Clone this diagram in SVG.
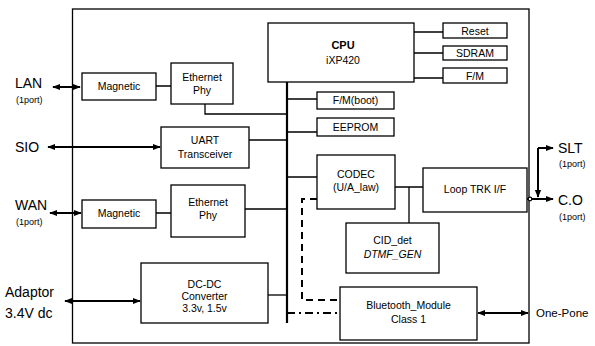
<svg xmlns="http://www.w3.org/2000/svg" width="595" height="346" viewBox="0 0 595 346">
<defs>
<style>
.box{fill:#fff;stroke:#000;stroke-width:1.3}
.ln{fill:none;stroke:#000;stroke-width:1.3}
.bus{fill:none;stroke:#000;stroke-width:2.2}
.ar{fill:none;stroke:#000;stroke-width:2}
.t{font-family:"Liberation Sans",Arial,sans-serif;font-size:10.5px;text-anchor:middle;fill:#000}
.big{font-family:"Liberation Sans",Arial,sans-serif;font-size:14px;fill:#000}
.sm{font-family:"Liberation Sans",Arial,sans-serif;font-size:9px;fill:#000}
.op{font-family:"Liberation Sans",Arial,sans-serif;font-size:11.5px;fill:#000}
</style>
<marker id="ah" viewBox="0 0 10 10" refX="9" refY="5" markerWidth="4" markerHeight="4" orient="auto-start-reverse" markerUnits="strokeWidth">
<path d="M0,1 L10,5 L0,9 z" fill="#000"/>
</marker>
</defs>
<rect width="595" height="346" fill="#fff"/>
<g id="board"><rect x="72.5" y="9" width="456.5" height="334" class="ln"/></g>

<g id="connectors">
<path class="bus" d="M287,82 V323"/>
<path class="ln" d="M414,32 H443 M414,53 H443 M414,78 H443"/>
<path class="ln" d="M287,99 H317 M287,132 H317 M287,177 H317"/>
<path class="ln" d="M156,86 H171 M205,104 V114 H287"/>
<path class="ln" d="M249,140 H287"/>
<path class="ln" d="M156,213 H171 M245,209 H287"/>
<path class="ln" d="M268,295 H287"/>
<path class="ln" d="M395,187 H423 M409,187 V223"/>
<path fill="none" stroke="#000" stroke-width="2" stroke-dasharray="7,5" d="M317,199 H302 V300 H340"/>
<path fill="none" stroke="#000" stroke-width="2" stroke-dasharray="8,4,2,4" d="M287,313 H340"/>
<path class="ar" marker-start="url(#ah)" marker-end="url(#ah)" d="M53,87 H80"/>
<path class="ar" marker-start="url(#ah)" marker-end="url(#ah)" d="M48,147 H160"/>
<path class="ar" marker-start="url(#ah)" marker-end="url(#ah)" d="M50,213 H81"/>
<path class="ar" marker-start="url(#ah)" marker-end="url(#ah)" d="M65,301 H140"/>
<path class="ar" marker-start="url(#ah)" marker-end="url(#ah)" d="M478,313 H528"/>
<path class="ar" marker-end="url(#ah)" d="M527,199 H553"/>
<circle cx="530" cy="199" r="1.8" fill="#fff" stroke="#000" stroke-width="1.2"/>
<path class="ar" marker-end="url(#ah)" d="M538,148 H553"/>
<path class="ar" marker-end="url(#ah)" d="M538,148 V197"/>
</g>

<g id="cpu"><rect x="268" y="23" width="146" height="59" class="box"/>
<text x="343" y="49" class="t" style="font-weight:bold;font-size:11px">CPU</text>
<text x="343" y="64" class="t">iXP420</text></g>
<g id="reset"><rect x="443" y="23" width="64" height="15" class="box"/><text x="475" y="34.5" class="t">Reset</text></g>
<g id="sdram"><rect x="443" y="46" width="64" height="14" class="box"/><text x="475" y="57" class="t">SDRAM</text></g>
<g id="fm"><rect x="443" y="68" width="64" height="15" class="box"/><text x="475" y="79.5" class="t">F/M</text></g>
<g id="fmboot"><rect x="317" y="92" width="77" height="17" class="box"/><text x="355.5" y="104" class="t">F/M(boot)</text></g>
<g id="eeprom"><rect x="317" y="118" width="77" height="18" class="box"/><text x="355.5" y="131" class="t">EEPROM</text></g>
<g id="codec"><rect x="317" y="155" width="78" height="54" class="box"/>
<text x="356" y="178" class="t">CODEC</text><text x="356" y="191" class="t">(U/A_law)</text></g>
<g id="looptrk"><rect x="423" y="168" width="104" height="44" class="box"/><text x="475" y="193" class="t">Loop TRK I/F</text></g>
<g id="ciddet"><rect x="346" y="223" width="93" height="50" class="box"/>
<text x="392.5" y="244" class="t">CID_det</text><text x="392.5" y="258" class="t" style="font-style:italic">DTMF_GEN</text></g>
<g id="bluetooth"><rect x="340" y="287" width="137" height="53" class="box"/>
<text x="408.5" y="309" class="t">Bluetooth_Module</text><text x="408.5" y="323" class="t">Class 1</text></g>

<g id="magnetic-lan"><rect x="82" y="73" width="74" height="27" class="box"/><text x="119" y="90" class="t">Magnetic</text></g>
<g id="phy-lan"><rect x="171" y="63" width="62" height="41" class="box"/>
<text x="202" y="81" class="t">Ethernet</text><text x="202" y="94" class="t">Phy</text></g>
<g id="uart"><rect x="161" y="127" width="88" height="41" class="box"/>
<text x="205" y="144" class="t">UART</text><text x="205" y="158" class="t">Transceiver</text></g>
<g id="magnetic-wan"><rect x="82" y="200" width="74" height="28" class="box"/><text x="119" y="217" class="t">Magnetic</text></g>
<g id="phy-wan"><rect x="171" y="185" width="74" height="52" class="box"/>
<text x="208" y="206" class="t">Ethernet</text><text x="208" y="219" class="t">Phy</text></g>
<g id="dcdc"><rect x="141" y="263" width="127" height="60" class="box"/>
<text x="204.5" y="288" class="t">DC-DC</text><text x="204.5" y="300" class="t">Converter</text><text x="204.5" y="312" class="t">3.3v, 1.5v</text></g>

<g id="labels">
<text x="15" y="88" class="big">LAN</text><text x="16" y="103" class="sm">(1port)</text>
<text x="15" y="152" class="big">SIO</text>
<text x="15" y="210" class="big">WAN</text><text x="16" y="225" class="sm">(1port)</text>
<text x="5" y="297" class="big">Adaptor</text><text x="5" y="318" class="big">3.4V dc</text>
<text x="558" y="153" class="big">SLT</text><text x="559" y="167" class="sm">(1port)</text>
<text x="558" y="205" class="big">C.O</text><text x="559" y="220" class="sm">(1port)</text>
<text x="536" y="317" class="op">One-Pone</text>
</g>
</svg>
